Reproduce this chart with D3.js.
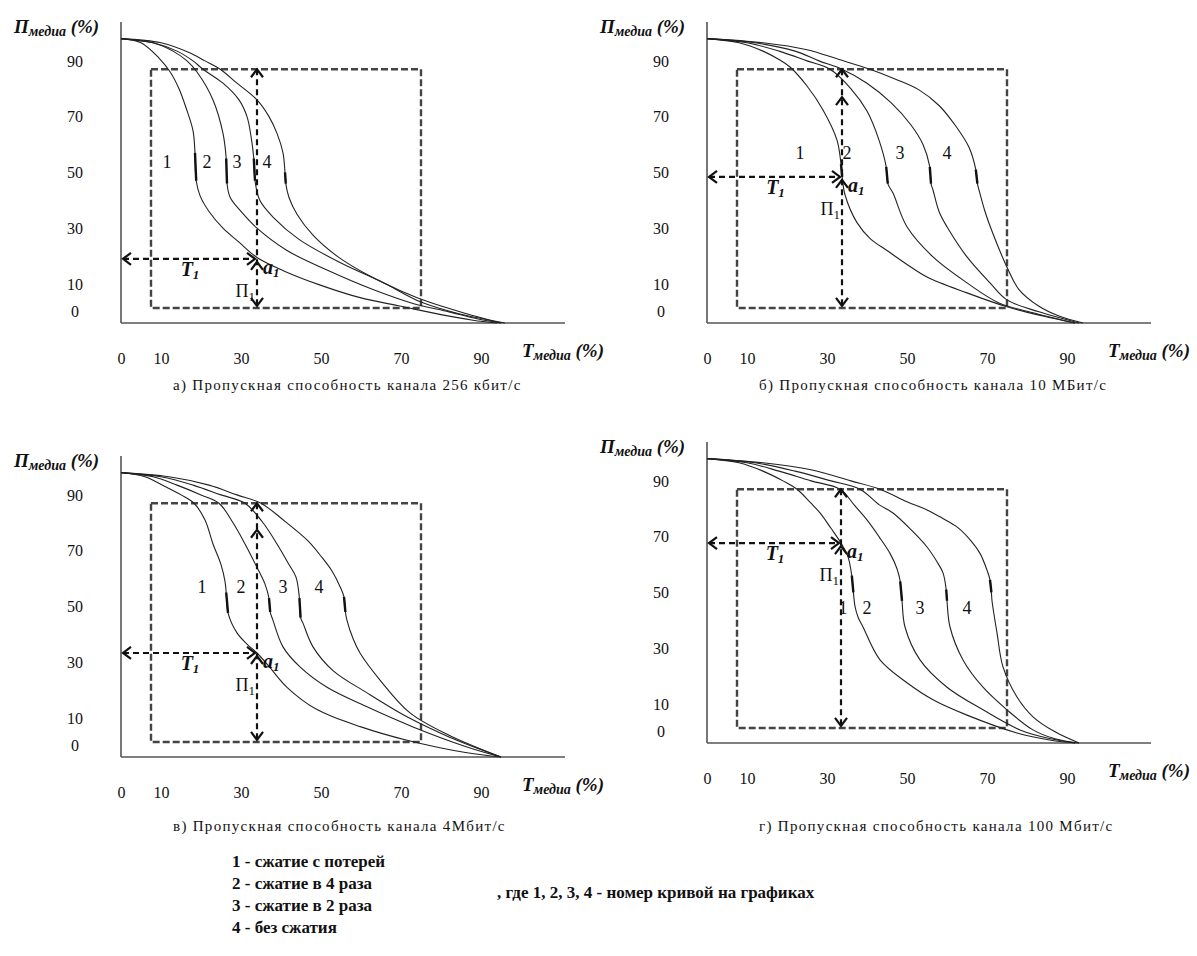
<!DOCTYPE html>
<html>
<head>
<meta charset="utf-8">
<script src="https://cdn.jsdelivr.net/npm/d3@7"></script>
<style>
  body { margin: 0; background: #fff; }
  svg { display: block; }
</style>
</head>
<body>
<svg id="chart" width="1197" height="956"></svg>
<script>
// ---- tick labels / texts ----
var xTicks = [0, 10, 30, 50, 70, 90];
var yTicks = [0, 10, 30, 50, 70, 90];
var curveNames = ['1', '2', '3', '4'];
var captions = [
  'а) Пропускная способность канала 256 кбит/с',
  'б) Пропускная способность канала 10 МБит/с',
  'в) Пропускная способность канала 4Мбит/с',
  'г) Пропускная способность канала 100 Мбит/с'
];
var legendLines = [
  '1 - сжатие с потерей',
  '2 - сжатие в 4 раза',
  '3 - сжатие в 2 раза',
  '4 - без сжатия'
];
var legendNote = ', где 1, 2, 3, 4 - номер кривой на графиках';

// ---- curves, [T, П] in % ----
var panelA = [
  [[0,98],[5,96.5],[9.5,91],[12.3,86],[14.5,80],[16.3,73],[18,65],[18.5,57],[18.8,47],[19.8,41.5],[22,36],[25.5,30],[29.5,25],[34,19.5],[41,14.5],[50,9.5],[60,5],[70,2],[80,-1],[88,-3],[94,-4]],
  [[0,98],[8,96.5],[13,93.5],[16.5,90],[19,86],[23,76],[25.5,64],[26.3,55],[26.5,46],[27.3,41],[30,36],[34,30],[41.5,22],[51.5,15],[63,8],[73,3],[82,0],[89,-2.5],[95,-4]],
  [[0,98],[8,96.5],[14,93.5],[18,90],[20.5,87],[25.5,82],[29.5,76],[31.5,70],[32.5,63],[33.2,55],[33.5,47],[34.7,40],[38,34],[44.5,26],[55,17.5],[65.5,10.5],[75,3.5],[84,-0.5],[96,-4]],
  [[0,98],[10,96.5],[17,93],[21,90],[24.8,87],[29,82],[34,76],[37,70],[39,64],[40.5,57],[41,50],[41.2,46],[42,41],[44,35],[48,27.5],[54,20],[62,13],[70,7.5],[77,3.5],[86,-0.5],[95,-4]]
];
var panelB = [
  [[0,98],[8,96.5],[14,93.5],[18,90.5],[20.75,87.8],[25,81],[29,72.4],[32.5,61.6],[33.5,53],[33.8,48.4],[34.5,42],[37.5,32],[41,26],[45,22],[50,17],[55,12.5],[65,6.8],[75,1.8],[84,-1.5],[92,-4]],
  [[0,98],[10,96.5],[18,93.5],[25,90],[30.75,87],[36,80],[40,72],[43,61.6],[44.8,52],[45.2,46],[46.5,42.6],[50,30.5],[56.5,19.7],[65,10.4],[73,3.2],[82,-0.5],[92,-4]],
  [[0,98],[12,96.5],[22,93.5],[28,90],[33.75,87],[40,82],[46,75],[51,67],[54,60],[55.7,52],[56,46],[56.5,43.7],[58,36],[60,30.5],[65,19.7],[70.75,10.4],[75,4.3],[83,0],[93,-4]],
  [[0,98],[14,96.5],[25,94],[33,90.5],[40.75,87],[47,83.5],[53,79.6],[58,74],[62,67],[65.5,59],[67.2,51],[67.6,46],[68,43.7],[69.5,36],[71.5,28],[75,16],[78,8],[83,2],[88,-1.5],[94,-4]]
];
var panelC = [
  [[0,98],[6,96.5],[11,93],[15,90],[18.25,87],[21,81],[23,72.4],[25,65],[26,59],[26.3,55],[26.75,47.7],[29,40.5],[31.5,36.5],[34,33.3],[37,28.5],[41.5,21],[49,13],[60,6.8],[71.5,2],[86.5,-2.5],[95,-4]],
  [[0,98],[8,96.5],[14,93.5],[20,90],[24.5,87],[28,80],[31,72.4],[34,64],[36,58],[37,53],[37.3,48],[38,45],[40.5,35.5],[44.75,28.3],[51.5,21],[61.5,14],[73,6.8],[86.5,-0.4],[95,-4]],
  [[0,98],[10,96.5],[18,93.5],[25,90],[31,87],[35.5,80],[39,72.4],[42,65],[43.75,60.5],[44.6,53],[44.9,46],[45.5,44],[48,35.5],[53,27],[61.5,19],[71.5,10.4],[82,3.2],[95,-4]],
  [[0,98],[12,96.5],[22,93.5],[29,90],[35,87],[41,80.5],[46.75,73.5],[50,68],[52.75,62.7],[54.8,57],[55.75,53.4],[56.1,48],[56.5,45],[58,38.5],[59.75,33.3],[64.75,23.6],[72.25,11.8],[82,3.8],[95,-4]]
];
var panelD = [
  [[0,98],[8,96.5],[14,93.5],[19,90],[22.5,87],[26,82],[28.25,78.5],[31,73],[33.5,67.7],[35.2,63],[36.2,56],[36.6,50],[37,45],[37.8,41],[39,37.6],[43.25,25.8],[50,17.6],[56.5,11.5],[65,6],[77.5,-0.4],[86,-3],[92,-4]],
  [[0,98],[10,96.5],[18,93.5],[26,90],[33.25,87],[37,81],[40,76],[43,70],[45.75,64],[47.5,58.5],[48.3,54],[48.75,47],[49.5,37.6],[53.25,25.8],[60,16],[69,7.9],[78.25,0.7],[86,-2.5],[92,-4]],
  [[0,98],[12,96.5],[22,93.5],[31,90],[38.25,87],[43,81.5],[46.5,78.5],[51,72.5],[55,66.3],[57.5,61],[59,57],[59.8,51],[60,47],[60.75,37.6],[64,25.8],[69,16],[75,7.9],[81.5,0.7],[87,-2.5],[93,-4]],
  [[0,98],[14,96.5],[26,94],[36,90],[43.25,87],[50,82.5],[55,79.6],[59,76.5],[62.5,73.5],[66,68.5],[68.25,64],[70,58],[70.75,54.5],[71.1,50],[71.25,47],[72.5,35.5],[74,23.3],[77.5,12.5],[81.5,5.4],[87,0],[93,-4]]
];

// working point a1 [T1, П1] per panel, extra arrowhead level on the П axis
var pointsA1 = [[34, 19], [33.75, 48.4], [34, 33.3], [33.5, 67.7]];
var extraHeads = [null, 77, 77.5, null];
// dashed frame [Tmin, Tmax, Пmin, Пmax]
var frame = [7.5, 75, 1.4, 87];
// where the curve numbers sit, [T, П]
var labelsA = [[11.5,53.8],[21.5,53.8],[29,53.8],[36.5,53.8]];
var labelsB = [[23.25,57],[35,57],[48.25,57],[60,57]];
var labelsC = [[20.25,57],[30,57],[40.5,57],[49.5,57]];
var labelsD = [[34,44.4],[40,44.4],[53.25,44.4],[65,44.4]];

// panel placement on the page (pixels) and caption baseline
var panels = [
  { curves: panelA, labels: labelsA, dx: 0,   dy: 0,   capY: 390 },
  { curves: panelB, labels: labelsB, dx: 586, dy: 0,   capY: 390 },
  { curves: panelC, labels: labelsC, dx: 0,   dy: 434, capY: 831 },
  { curves: panelD, labels: labelsD, dx: 586, dy: 420, capY: 831 }
];

var SERIF = '"Liberation Serif", "Times New Roman", Times, "DejaVu Serif", serif';

var svg = d3.select('#chart')
  .attr('font-family', SERIF)
  .style('font-family', SERIF);

// scales shared by every panel (panel-local pixels)
var x = d3.scaleLinear().domain([0, 111]).range([121, 565]);
var y = d3.scaleLinear().domain([-4, 100]).range([323, 33]);

var line = d3.line()
  .x(function(d){ return x(d[0]); })
  .y(function(d){ return y(d[1]); })
  .curve(d3.curveCatmullRom.alpha(0.5));

// open arrow head, tip at (tx,ty)
function head(g, tx, ty, dir){
  var w = 6, l = 8, p;
  if (dir === 'up')    p = [[tx - w, ty + l], [tx, ty], [tx + w, ty + l]];
  if (dir === 'down')  p = [[tx - w, ty - l], [tx, ty], [tx + w, ty - l]];
  if (dir === 'left')  p = [[tx + l, ty - w], [tx, ty], [tx + l, ty + w]];
  if (dir === 'right') p = [[tx - l, ty - w], [tx, ty], [tx - l, ty + w]];
  g.append('path')
    .attr('d', d3.line()(p))
    .attr('fill', 'none')
    .attr('stroke', '#111')
    .attr('stroke-width', 2.2);
}

// text with a subscript part
function subText(g, px, py, main, sub, tail, opt){
  var t = g.append('text')
    .attr('x', px).attr('y', py)
    .attr('fill', '#111')
    .attr('text-anchor', opt.anchor || 'start')
    .style('font-family', SERIF)
    .style('font-weight', opt.bold ? 'bold' : 'normal')
    .style('font-style', opt.italic ? 'italic' : 'normal')
    .style('font-size', opt.size + 'px');
  t.append('tspan').text(main);
  t.append('tspan').attr('dy', opt.sub).style('font-size', opt.subSize + 'px').text(sub);
  if (tail) t.append('tspan').attr('dy', -opt.sub).text(tail);
  return t;
}

panels.forEach(function(p, i){
  var g = svg.append('g').attr('transform', 'translate(' + p.dx + ',' + p.dy + ')');

  // dashed frame
  g.append('rect')
    .attr('x', x(frame[0])).attr('y', y(frame[3]))
    .attr('width', x(frame[1]) - x(frame[0]))
    .attr('height', y(frame[2]) - y(frame[3]))
    .attr('fill', 'none')
    .attr('stroke', '#444')
    .attr('stroke-width', 2.4)
    .attr('stroke-dasharray', '7,3');

  // axis lines
  g.append('line')
    .attr('x1', x(0)).attr('x2', x(0))
    .attr('y1', 22).attr('y2', y(-4))
    .attr('stroke', '#555').attr('stroke-width', 1.6);
  g.append('line')
    .attr('x1', x(0)).attr('x2', x(111))
    .attr('y1', y(-4)).attr('y2', y(-4))
    .attr('stroke', '#555').attr('stroke-width', 1.6);

  // tick labels
  var ax = g.append('g')
    .attr('transform', 'translate(0,' + 350 + ')')
    .call(d3.axisBottom(x).tickValues(xTicks).tickSize(0).tickPadding(3).tickFormat(d3.format('d')));
  var ay = g.append('g')
    .attr('transform', 'translate(' + 75 + ',0)')
    .call(d3.axisLeft(y).tickValues(yTicks).tickSize(0).tickPadding(0).tickFormat(d3.format('d')));
  [ax, ay].forEach(function(a){
    a.attr('font-family', SERIF).attr('font-size', 16);
    a.select('.domain').remove();
    a.selectAll('text')
      .attr('fill', '#111')
      .style('font-family', SERIF)
      .style('font-size', '16px');
  });
  ay.selectAll('text').attr('text-anchor', 'middle');

  // axis titles
  subText(g, 14, 33, 'П', 'медиа', ' (%)', { bold: true, italic: true, size: 19, subSize: 14, sub: 3 });
  subText(g, 522, 357, 'T', 'медиа', ' (%)', { bold: true, italic: true, size: 19, subSize: 14, sub: 3 });

  // curves
  g.selectAll('path.curve')
    .data(p.curves)
    .join('path')
    .attr('class', 'curve')
    .attr('d', line)
    .attr('fill', 'none')
    .attr('stroke', '#222')
    .attr('stroke-width', 1.1);

  // the short heavy stroke on the steep part of each curve
  p.curves.forEach(function(c){
    var best = null, bestR = Infinity;
    for (var k = 1; k < c.length; k++){
      var ddx = Math.abs(c[k][0] - c[k - 1][0]);
      var ddy = Math.abs(c[k][1] - c[k - 1][1]);
      if (ddy > 3 && c[k][1] < 60 && ddx / ddy < bestR){ bestR = ddx / ddy; best = k; }
    }
    g.append('path')
      .attr('d', line([c[best - 1], c[best]]))
      .attr('fill', 'none')
      .attr('stroke', '#111')
      .attr('stroke-width', 2.4);
  });

  // curve numbers
  g.selectAll('text.num')
    .data(p.labels)
    .join('text')
    .attr('class', 'num')
    .attr('x', function(d){ return x(d[0]); })
    .attr('y', function(d){ return y(d[1]); })
    .attr('dy', '0.35em')
    .attr('text-anchor', 'middle')
    .attr('fill', '#111')
    .style('font-family', SERIF)
    .style('font-size', '18px')
    .text(function(d, k){ return curveNames[k]; });

  // working point arrows
  var a = pointsA1[i];
  var ax1 = x(a[0]), ay1 = y(a[1]);
  g.append('line')
    .attr('x1', x(0.5)).attr('x2', ax1 - 2)
    .attr('y1', ay1).attr('y2', ay1)
    .attr('stroke', '#111').attr('stroke-width', 2.2)
    .attr('stroke-dasharray', '6,4');
  g.append('line')
    .attr('x1', ax1).attr('x2', ax1)
    .attr('y1', y(frame[3])).attr('y2', y(frame[2]))
    .attr('stroke', '#111').attr('stroke-width', 2.2)
    .attr('stroke-dasharray', '6,4');
  head(g, x(0.5), ay1, 'left');
  head(g, ax1 - 2, ay1, 'right');
  head(g, ax1, y(frame[3]), 'up');
  head(g, ax1, ay1 + 3, 'up');
  head(g, ax1, y(frame[2]) - 2, 'down');
  if (extraHeads[i] !== null) head(g, ax1, y(extraHeads[i]), 'up');

  subText(g, (x(0.5) + ax1) / 2, ay1 + 17, 'T', '1', null,
    { bold: true, italic: true, size: 20, subSize: 13, sub: 3, anchor: 'middle' });
  subText(g, ax1 + 6, ay1 + 15, 'a', '1', null,
    { bold: true, italic: true, size: 20, subSize: 13, sub: 3 });
  subText(g, ax1 - 2, ay1 + 38, 'П', '1', null,
    { bold: false, italic: false, size: 18, subSize: 13, sub: 4, anchor: 'end' });

  // caption
  g.append('text')
    .attr('x', 173).attr('y', p.capY - p.dy)
    .attr('fill', '#111')
    .style('font-family', SERIF)
    .style('font-size', '15px')
    .style('letter-spacing', '1.3px')
    .text(captions[i]);
});

// legend
var leg = svg.append('g').attr('transform', 'translate(232,0)');
leg.selectAll('text')
  .data(legendLines)
  .join('text')
  .attr('x', 0)
  .attr('y', function(d, k){ return 867 + k * 22; })
  .attr('fill', '#111')
  .style('font-family', SERIF)
  .style('font-size', '17px')
  .style('font-weight', 'bold')
  .text(function(d){ return d; });
svg.append('text')
  .attr('x', 497).attr('y', 898)
  .attr('fill', '#111')
  .style('font-family', SERIF)
  .style('font-size', '17px')
  .style('font-weight', 'bold')
  .text(legendNote);
</script>
</body>
</html>
